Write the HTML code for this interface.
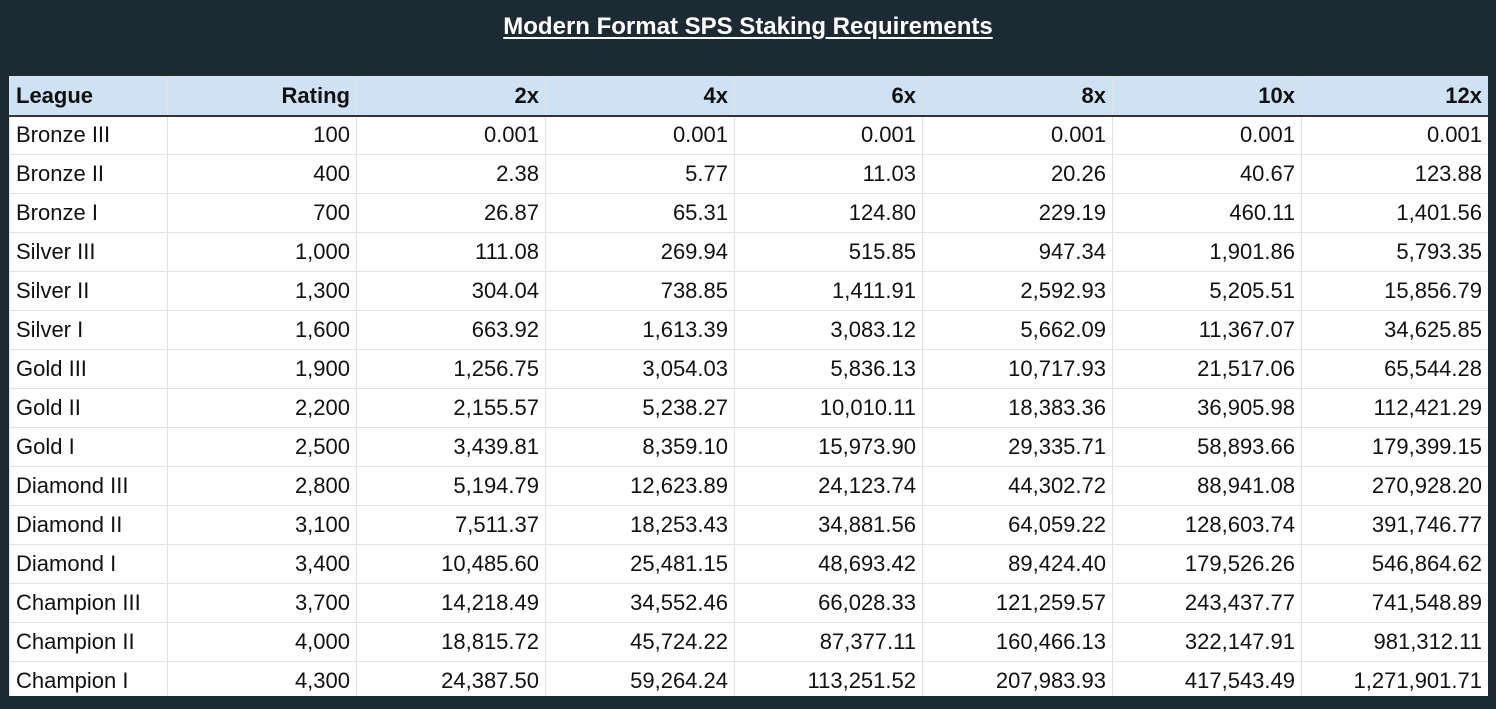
<!DOCTYPE html>
<html><head><meta charset="utf-8">
<style>
html,body{margin:0;padding:0;background:#1c2a34;width:1496px;height:709px;overflow:hidden;font-family:"Liberation Sans",Arial,sans-serif;}
#title{position:absolute;left:0;top:13px;width:1496px;text-align:center;color:#fff;font-weight:bold;font-size:24px;text-decoration:underline;text-underline-offset:3px;}
#wrap{position:absolute;left:9px;top:76px;width:1479px;height:620px;overflow:hidden;background:#fff;}
table{border-collapse:collapse;table-layout:fixed;width:1479px;}
td,th{font-size:22px;color:#111;height:38px;padding:0 6px;border:1px solid #e2e2e2;white-space:nowrap;box-sizing:border-box;}
th{background:#cfe2f3;font-weight:bold;text-align:right;border-bottom:2px solid #333;height:39px;}
th:first-child,td:first-child{text-align:left;}
td{text-align:right;height:39px;}
</style></head><body>
<div id="title">Modern Format SPS Staking Requirements</div>
<div id="wrap">
<table id="tbl">
<colgroup><col style="width:158px"><col style="width:189px"><col style="width:189px"><col style="width:189px"><col style="width:188px"><col style="width:190px"><col style="width:189px"><col style="width:187px"></colgroup>
<thead><tr>
<th>League</th>
<th>Rating</th>
<th>2x</th>
<th>4x</th>
<th>6x</th>
<th>8x</th>
<th>10x</th>
<th>12x</th>
</tr></thead>
<tbody>
<tr><td>Bronze III</td><td>100</td><td>0.001</td><td>0.001</td><td>0.001</td><td>0.001</td><td>0.001</td><td>0.001</td></tr>
<tr><td>Bronze II</td><td>400</td><td>2.38</td><td>5.77</td><td>11.03</td><td>20.26</td><td>40.67</td><td>123.88</td></tr>
<tr><td>Bronze I</td><td>700</td><td>26.87</td><td>65.31</td><td>124.80</td><td>229.19</td><td>460.11</td><td>1,401.56</td></tr>
<tr><td>Silver III</td><td>1,000</td><td>111.08</td><td>269.94</td><td>515.85</td><td>947.34</td><td>1,901.86</td><td>5,793.35</td></tr>
<tr><td>Silver II</td><td>1,300</td><td>304.04</td><td>738.85</td><td>1,411.91</td><td>2,592.93</td><td>5,205.51</td><td>15,856.79</td></tr>
<tr><td>Silver I</td><td>1,600</td><td>663.92</td><td>1,613.39</td><td>3,083.12</td><td>5,662.09</td><td>11,367.07</td><td>34,625.85</td></tr>
<tr><td>Gold III</td><td>1,900</td><td>1,256.75</td><td>3,054.03</td><td>5,836.13</td><td>10,717.93</td><td>21,517.06</td><td>65,544.28</td></tr>
<tr><td>Gold II</td><td>2,200</td><td>2,155.57</td><td>5,238.27</td><td>10,010.11</td><td>18,383.36</td><td>36,905.98</td><td>112,421.29</td></tr>
<tr><td>Gold I</td><td>2,500</td><td>3,439.81</td><td>8,359.10</td><td>15,973.90</td><td>29,335.71</td><td>58,893.66</td><td>179,399.15</td></tr>
<tr><td>Diamond III</td><td>2,800</td><td>5,194.79</td><td>12,623.89</td><td>24,123.74</td><td>44,302.72</td><td>88,941.08</td><td>270,928.20</td></tr>
<tr><td>Diamond II</td><td>3,100</td><td>7,511.37</td><td>18,253.43</td><td>34,881.56</td><td>64,059.22</td><td>128,603.74</td><td>391,746.77</td></tr>
<tr><td>Diamond I</td><td>3,400</td><td>10,485.60</td><td>25,481.15</td><td>48,693.42</td><td>89,424.40</td><td>179,526.26</td><td>546,864.62</td></tr>
<tr><td>Champion III</td><td>3,700</td><td>14,218.49</td><td>34,552.46</td><td>66,028.33</td><td>121,259.57</td><td>243,437.77</td><td>741,548.89</td></tr>
<tr><td>Champion II</td><td>4,000</td><td>18,815.72</td><td>45,724.22</td><td>87,377.11</td><td>160,466.13</td><td>322,147.91</td><td>981,312.11</td></tr>
<tr><td>Champion I</td><td>4,300</td><td>24,387.50</td><td>59,264.24</td><td>113,251.52</td><td>207,983.93</td><td>417,543.49</td><td>1,271,901.71</td></tr>
</tbody></table></div>
</body></html>
